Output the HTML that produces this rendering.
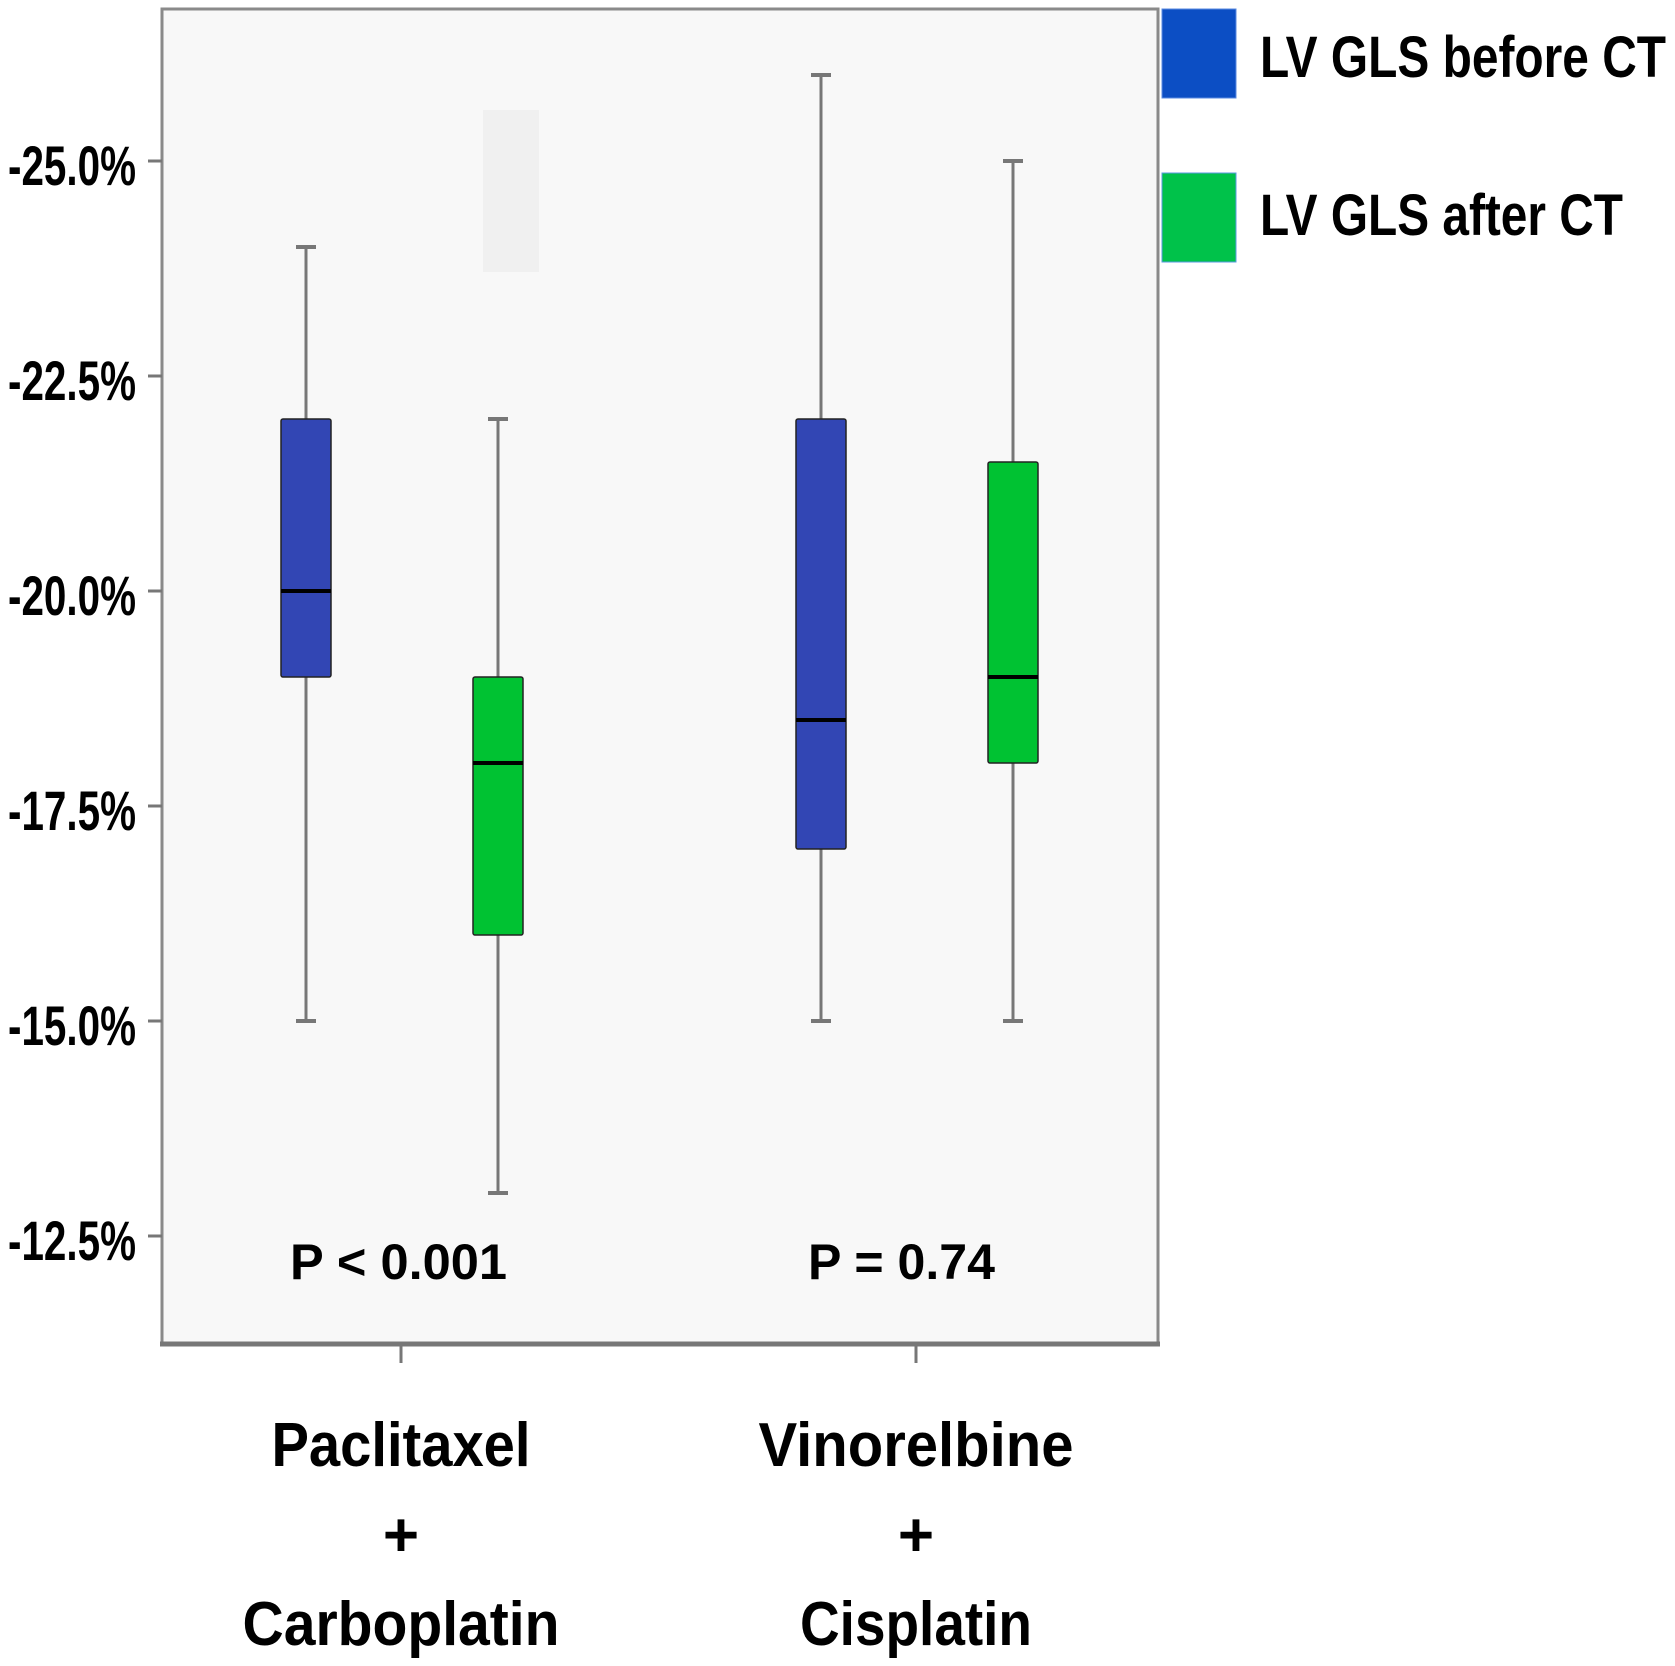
<!DOCTYPE html>
<html><head><meta charset="utf-8"><style>
html,body{margin:0;padding:0;background:#fff;}
svg{display:block;font-family:"Liberation Sans",sans-serif;font-weight:bold;}
</style></head><body>
<svg id="chart" width="1675" height="1666" viewBox="0 0 1675 1666" xmlns="http://www.w3.org/2000/svg">
<rect x="162" y="9" width="996" height="1335" fill="#f8f8f8" stroke="#8a8a8a" stroke-width="3"/>
<line x1="160" y1="1344" x2="1160" y2="1344" stroke="#777" stroke-width="5"/>
<rect x="483" y="110" width="56" height="162" fill="#f0f0f0"/>
<g id="yaxis"></g>
<g id="boxes"></g>
<g id="xaxis"></g>
<text x="290" y="1279" font-size="50" textLength="217" lengthAdjust="spacingAndGlyphs">P &lt; 0.001</text>
<text x="808" y="1279" font-size="50" textLength="187" lengthAdjust="spacingAndGlyphs">P = 0.74</text>
<rect x="1162" y="9" width="74" height="89" fill="#0c4ec4" stroke="#5a8ae0" stroke-width="1"/>
<text x="1260" y="77" font-size="58" textLength="406" lengthAdjust="spacingAndGlyphs">LV GLS before CT</text>
<rect x="1162" y="173" width="74" height="89" fill="#00c24a" stroke="#5a9ae0" stroke-width="1"/>
<text x="1260" y="235" font-size="58" textLength="363" lengthAdjust="spacingAndGlyphs">LV GLS after CT</text>
</svg>
<script>
const categories = ["Paclitaxel|+|Carboplatin", "Vinorelbine|+|Cisplatin"];
const yTicks = [25, 22.5, 20, 17.5, 15, 12.5];
const yTickLabels = ["-25.0%", "-22.5%", "-20.0%", "-17.5%", "-15.0%", "-12.5%"];
const beforeMin = [15, 15];
const beforeQ1 = [19, 17];
const beforeMedian = [20, 18.5];
const beforeQ3 = [22, 22];
const beforeMax = [24, 26];
const afterMin = [13, 15];
const afterQ1 = [16, 18];
const afterMedian = [18, 19];
const afterQ3 = [19, 21.5];
const afterMax = [22, 25];

const NS = "http://www.w3.org/2000/svg";
function y(v){ return 161 + (25 - v) * 86; }
function xc(i){ return 401 + i * 515; }
function mk(tag, attrs, parent){
  const e = document.createElementNS(NS, tag);
  for (const k in attrs) e.setAttribute(k, attrs[k]);
  parent.appendChild(e); return e;
}
const ya = document.getElementById("yaxis");
yTicks.forEach((t, i) => {
  const l = mk("line", {x1:148, x2:162, y1:y(t), y2:y(t), stroke:"#777", "stroke-width":3}, ya);
  
  
  const tx = mk("text", {x:8, y:y(t)+24, "font-size":56, textLength:128, lengthAdjust:"spacingAndGlyphs"}, ya);
  tx.textContent = yTickLabels[i];
  
  
});
const bx = document.getElementById("boxes");
function drawBox(cx, mn, q1, md, q3, mx, fill, name){
  const g = mk("g", {}, bx);
  
  
  mk("line", {x1:cx, x2:cx, y1:y(mx), y2:y(mn), stroke:"#777", "stroke-width":3}, g);
  mk("line", {x1:cx-10, x2:cx+10, y1:y(mx), y2:y(mx), stroke:"#777", "stroke-width":4}, g);
  mk("line", {x1:cx-10, x2:cx+10, y1:y(mn), y2:y(mn), stroke:"#777", "stroke-width":4}, g);
  mk("rect", {x:cx-25, y:y(q3), width:50, height:y(q1)-y(q3), fill:fill, stroke:"#222", "stroke-width":1.5, rx:2}, g);
  mk("line", {x1:cx-25, x2:cx+25, y1:y(md), y2:y(md), stroke:"#000", "stroke-width":4}, g);
}
categories.forEach((c, i) => {
  drawBox(xc(i)-95, beforeMin[i], beforeQ1[i], beforeMedian[i], beforeQ3[i], beforeMax[i], "#3246b4", "box-before-" + i);
  drawBox(xc(i)+97, afterMin[i], afterQ1[i], afterMedian[i], afterQ3[i], afterMax[i], "#00c232", "box-after-" + i);
});
const xa = document.getElementById("xaxis");
categories.forEach((c, i) => {
  const t = mk("line", {x1:xc(i), x2:xc(i), y1:1344, y2:1363, stroke:"#777", "stroke-width":3}, xa);
  
  
  const parts = c.split("|");
  const ys = [1466, 1556, 1645];
  parts.forEach((p, j) => {
    const tx = mk("text", {x:xc(i), y:ys[j], "font-size":62, "text-anchor":"middle"}, xa);
    if (j !== 1) tx.setAttribute("textLength", i === 0 ? (j === 0 ? 259 : 317) : (j === 0 ? 315 : 232));
    tx.setAttribute("lengthAdjust", "spacingAndGlyphs");
    tx.textContent = p;
    
    
  });
});
</script>
</body></html>
